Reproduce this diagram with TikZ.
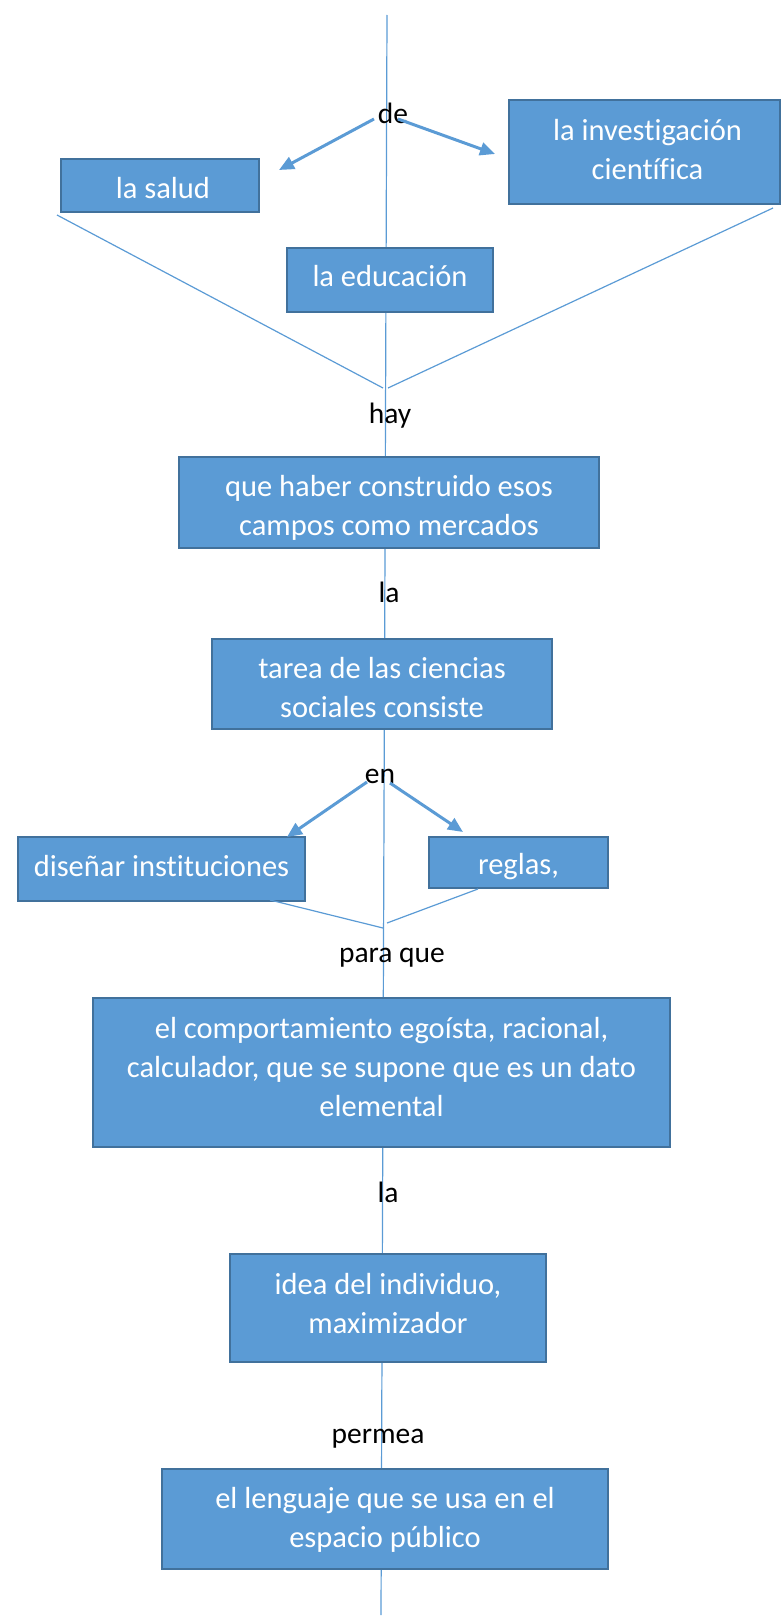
\documentclass[tikz,border=0pt]{standalone}
\usepackage{fontspec}
\setmainfont{Carlito}[Ligatures={NoCommon}]
\usetikzlibrary{arrows.meta}
\definecolor{boxfill}{HTML}{5B9BD5}
\definecolor{boxline}{HTML}{41719C}
\definecolor{linkc}{HTML}{5B9BD5}
\begin{document}
\begin{tikzpicture}[x=1pt,y=-1pt,
  box/.style={draw=boxline, line width=2pt, fill=boxfill, inner sep=0pt},
  boxtext/.style={anchor=base, text=white, inner sep=0pt, font=\fontsize{30.5}{39}\selectfont},
  word/.style={anchor=base, text=black, inner sep=0pt, font=\fontsize{29.5}{39}\selectfont},
  thinlink/.style={draw=linkc, line width=1.2pt},
  arr/.style={draw=linkc, line width=3pt, -{Triangle[length=15pt,width=13pt]}}]
\useasboundingbox (0,0) rectangle (783,1619);

% main vertical line (behind boxes)
\coordinate (vtop) at (387,15);
\coordinate (vbot) at (381,1615);
\draw[thinlink] (vtop) -- (vbot);

% boxes
\node[box, minimum width=198pt, minimum height=53pt] (salud) at (160,185.5) {};
\node[box, minimum width=271pt, minimum height=104pt] (inv) at (644.5,152) {};
\node[box, minimum width=206pt, minimum height=64pt] (edu) at (390,280) {};
\node[box, minimum width=420pt, minimum height=91pt] (haber) at (389,502.5) {};
\node[box, minimum width=340pt, minimum height=90pt] (tarea) at (382,684) {};
\node[box, minimum width=287pt, minimum height=64pt] (disenar) at (161.5,869) {};
\node[box, minimum width=179pt, minimum height=51pt] (reglas) at (518.5,862.5) {};
\node[box, minimum width=577pt, minimum height=149pt] (comport) at (381.5,1072.5) {};
\node[box, minimum width=316pt, minimum height=108pt] (idea) at (388,1308) {};
\node[box, minimum width=446pt, minimum height=100pt] (lenguaje) at (385,1519) {};

% box texts
\node[boxtext] (salud-t) at ([xshift=3pt,yshift=-40pt]salud.north) {\begin{tabular}[t]{@{}c@{}}la salud\end{tabular}};
\node[boxtext] (inv-t) at ([xshift=3pt,yshift=-41pt]inv.north) {\begin{tabular}[t]{@{}c@{}}la investigación\\científica\end{tabular}};
\node[boxtext] (edu-t) at ([yshift=-39pt]edu.north) {\begin{tabular}[t]{@{}c@{}}la educación\end{tabular}};
\node[boxtext] (haber-t) at ([yshift=-40pt]haber.north) {\begin{tabular}[t]{@{}c@{}}que haber construido esos\\campos como mercados\end{tabular}};
\node[boxtext] (tarea-t) at ([yshift=-40pt]tarea.north) {\begin{tabular}[t]{@{}c@{}}tarea de las ciencias\\sociales consiste\end{tabular}};
\node[boxtext] (disenar-t) at ([yshift=-40pt]disenar.north) {\begin{tabular}[t]{@{}c@{}}diseñar instituciones\end{tabular}};
\node[boxtext] (reglas-t) at ([yshift=-38pt]reglas.north) {\begin{tabular}[t]{@{}c@{}}reglas,\end{tabular}};
\node[boxtext] (comport-t) at ([yshift=-41pt]comport.north) {\begin{tabular}[t]{@{}c@{}}el comportamiento egoísta, racional,\\calculador, que se supone que es un dato\\elemental\end{tabular}};
\node[boxtext] (idea-t) at ([yshift=-41pt]idea.north) {\begin{tabular}[t]{@{}c@{}}idea del individuo,\\maximizador\end{tabular}};
\node[boxtext] (lenguaje-t) at ([yshift=-40pt]lenguaje.north) {\begin{tabular}[t]{@{}c@{}}el lenguaje que se usa en el\\espacio público\end{tabular}};

% black connecting words
\node[word] (de) at (393,123) {de};
\node[word] (hay) at (390,423) {hay};
\node[word] (la1) at (389,602) {la};
\node[word] (en) at (380,783) {en};
\node[word] (paraque) at (392,962) {para que};
\node[word] (la2) at (388,1202) {la};
\node[word] (permea) at (378,1443) {permea};

% converging thin lines
\coordinate (c1l) at (57,215);
\coordinate (c1r) at (773,208);
\coordinate (m1l) at (383,388);
\coordinate (m1r) at (388,388);
\coordinate (c2l) at (270,900);
\coordinate (c2r) at (478,889);
\coordinate (m2l) at (383,928);
\coordinate (m2r) at (387,923);
\draw[thinlink] (c1l) -- (m1l);
\draw[thinlink] (c1r) -- (m1r);
\draw[thinlink] (c2l) -- (m2l);
\draw[thinlink] (c2r) -- (m2r);

% arrows
\coordinate (a1s) at (374,119);
\coordinate (a1e) at (279,170);
\coordinate (a2s) at (398,119);
\coordinate (a2e) at (495,154);
\coordinate (a3s) at (367,782);
\coordinate (a3e) at (287,837);
\coordinate (a4s) at (390,783);
\coordinate (a4e) at (463,832);
\draw[arr] (a1s) -- (a1e);
\draw[arr] (a2s) -- (a2e);
\draw[arr] (a3s) -- (a3e);
\draw[arr] (a4s) -- (a4e);
\end{tikzpicture}
\end{document}
